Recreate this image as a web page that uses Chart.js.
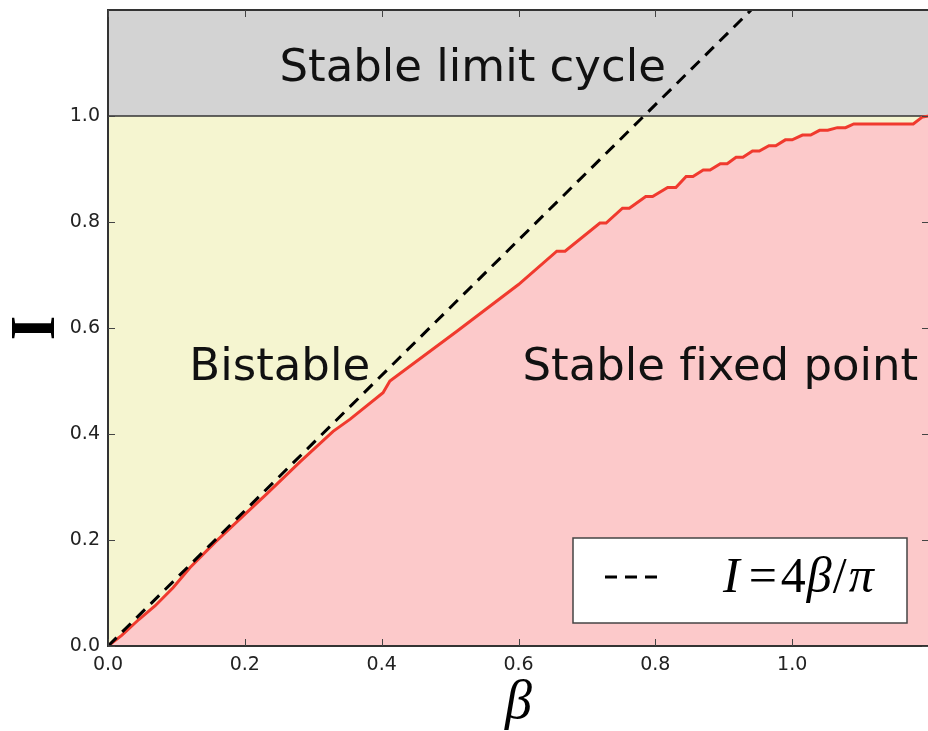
<!DOCTYPE html>
<html>
<head>
<meta charset="utf-8">
<script src="https://cdn.jsdelivr.net/npm/chart.js@4/dist/chart.umd.min.js"></script>
<style>
  html, body { margin: 0; padding: 0; background: #fff; overflow: hidden; }
  #wrap { width: 931px; height: 731px; }
</style>
</head>
<body>
<div id="wrap"><canvas id="phase" width="931" height="731"></canvas></div>
<script>
// boundary of the stable fixed point region (red curve)
const boundaryBeta = [0, 0.02, 0.045, 0.069, 0.095, 0.12, 0.156, 0.198, 0.232, 0.281,
  0.329, 0.354, 0.402, 0.412, 0.51, 0.6, 0.656, 0.668, 0.719, 0.728,
  0.752, 0.762, 0.786, 0.796, 0.818, 0.83, 0.845, 0.855, 0.87, 0.88,
  0.895, 0.905, 0.918, 0.928, 0.942, 0.952, 0.966, 0.976, 0.99, 1.0,
  1.015, 1.027, 1.04, 1.052, 1.066, 1.078, 1.09, 1.177, 1.19, 1.2];
const boundaryI = [0, 0.02, 0.05, 0.076, 0.11, 0.148, 0.195, 0.246, 0.287, 0.348,
  0.405, 0.428, 0.478, 0.5, 0.594, 0.682, 0.745, 0.745, 0.798, 0.798,
  0.826, 0.826, 0.848, 0.848, 0.865, 0.865, 0.886, 0.886, 0.898, 0.898,
  0.91, 0.91, 0.922, 0.922, 0.934, 0.934, 0.944, 0.944, 0.955, 0.955,
  0.964, 0.964, 0.973, 0.973, 0.978, 0.978, 0.985, 0.985, 0.998, 1.0];

// dashed line I = 4 beta / pi (end points)
const dashBeta = [0, 0.94];
const dashI = [0, 1.2];

// limit cycle threshold I = 1
const limitBeta = [0, 1.2];
const limitI = [1, 1];

// region labels (ZWNJ keeps "fi" from turning into a ligature)
const regionNames = ['Stable limit cycle', 'Bistable', 'Stable f\u200Cixed point'];
const regionBeta = [0.533, 0.251, 0.895];
const regionI = [1.088, 0.523, 0.523];

const tickValues = [0, 0.2, 0.4, 0.6, 0.8, 1.0];

const pts = (xs, ys) => xs.map((x, i) => ({x: x, y: ys[i]}));

const overlay = {
  id: 'overlay',
  afterDatasetsDraw(chart) {
    const {ctx, chartArea: a, scales} = chart;
    const xs = scales.x, ys = scales.y;
    ctx.save();
    // region labels
    ctx.fillStyle = '#111';
    ctx.font = '45px "DejaVu Sans"';
    ctx.textAlign = 'center';
    ctx.textBaseline = 'middle';
    regionNames.forEach((t, i) => {
      ctx.fillText(t, xs.getPixelForValue(regionBeta[i]), ys.getPixelForValue(regionI[i]));
    });
    // frame
    ctx.strokeStyle = '#333';
    ctx.lineWidth = 2;
    ctx.strokeRect(a.left, a.top, a.right - a.left, a.bottom - a.top);
    // inward ticks
    ctx.lineWidth = 1;
    ctx.strokeStyle = '#444';
    ctx.beginPath();
    tickValues.forEach(v => {
      const px = Math.round(xs.getPixelForValue(v)) + 0.5;
      ctx.moveTo(px, a.bottom); ctx.lineTo(px, a.bottom - 7);
      ctx.moveTo(px, a.top); ctx.lineTo(px, a.top + 7);
      const py = Math.round(ys.getPixelForValue(v)) + 0.5;
      ctx.moveTo(a.left, py); ctx.lineTo(a.left + 7, py);
      ctx.moveTo(a.right, py); ctx.lineTo(a.right - 7, py);
    });
    ctx.stroke();
    // legend box, lower right
    const bw = 334, bh = 85;
    const bx = a.right - 22 - bw, by = a.bottom - 23 - bh;
    ctx.fillStyle = '#fff';
    ctx.fillRect(bx, by, bw, bh);
    ctx.strokeStyle = '#444';
    ctx.lineWidth = 1.5;
    ctx.strokeRect(bx, by, bw, bh);
    ctx.strokeStyle = '#000';
    ctx.lineWidth = 3;
    ctx.setLineDash([12, 8]);
    ctx.beginPath();
    ctx.moveTo(bx + 32, by + 39);
    ctx.lineTo(bx + 91, by + 39);
    ctx.stroke();
    ctx.setLineDash([]);
    // label I=4β/π
    const parts = [['I', true, 9], ['=', false, 4], ['4', false, 1], ['β', true, 1], ['/', false, 2], ['π', true, 0]];
    let tx = bx + 150;
    const base = by + 54;
    ctx.fillStyle = '#000';
    ctx.textAlign = 'left';
    ctx.textBaseline = 'alphabetic';
    parts.forEach(([s, it, gap]) => {
      ctx.font = (it ? 'italic ' : '') + '50px "Liberation Serif"';
      ctx.fillText(s, tx, base);
      tx += ctx.measureText(s).width + gap;
    });
    ctx.restore();
  }
};

const ctx = document.getElementById('phase');
const chart = new Chart(ctx, {
  type: 'scatter',
  data: {
    datasets: [
      {
        label: 'I=4β/π',
        data: pts(dashBeta, dashI),
        showLine: true,
        borderColor: '#000',
        borderWidth: 3,
        borderDash: [12, 8],
        pointRadius: 0,
        fill: false,
        order: 0
      },
      {
        label: 'boundary',
        data: pts(boundaryBeta, boundaryI),
        showLine: true,
        borderColor: '#f03a2e',
        borderWidth: 3,
        backgroundColor: 'rgb(252, 201, 202)',
        pointRadius: 0,
        fill: 'origin',
        order: 1
      },
      {
        label: 'bistable',
        data: pts(limitBeta, limitI),
        showLine: true,
        borderColor: '#333',
        borderWidth: 1.5,
        backgroundColor: 'rgb(245, 245, 208)',
        pointRadius: 0,
        fill: 'origin',
        order: 2
      },
      {
        label: 'limit cycle',
        data: pts(limitBeta, limitI),
        showLine: true,
        borderWidth: 0,
        borderColor: 'rgba(0,0,0,0)',
        backgroundColor: 'rgb(211, 211, 211)',
        pointRadius: 0,
        fill: 'end',
        order: 3
      }
    ]
  },
  options: {
    responsive: false,
    animation: false,
    devicePixelRatio: 1,
    layout: { padding: { top: 10, right: 2, left: 0, bottom: 0 } },
    plugins: { legend: { display: false }, tooltip: { enabled: false } },
    scales: {
      x: {
        type: 'linear',
        min: 0, max: 1.2,
        afterBuildTicks: s => { s.ticks = tickValues.map(v => ({value: v})); },
        afterFit: s => { s.height = 85; s.paddingLeft = 0; s.paddingRight = 0; },
        grid: { display: false, drawTicks: false },
        border: { display: false },
        ticks: {
          padding: 8,
          color: '#222',
          font: { family: 'DejaVu Sans', size: 19 },
          callback: v => v.toFixed(1)
        },
        title: {
          display: true,
          text: 'β',
          color: '#000',
          font: { family: 'Liberation Serif', size: 54, style: 'italic', lineHeight: 1 },
          padding: { top: 0, bottom: 0 }
        }
      },
      y: {
        type: 'linear',
        min: 0, max: 1.2,
        afterBuildTicks: s => { s.ticks = tickValues.map(v => ({value: v})); },
        afterFit: s => { s.width = 108; s.paddingTop = 0; s.paddingBottom = 0; },
        grid: { display: false, drawTicks: false },
        border: { display: false },
        ticks: {
          padding: 8,
          color: '#222',
          font: { family: 'DejaVu Sans', size: 19 },
          callback: v => v.toFixed(1)
        },
        title: {
          display: true,
          text: 'I',
          color: '#000',
          font: { family: 'Liberation Serif', size: 64, weight: 'bold', lineHeight: 1 },
          padding: { top: 5, bottom: 0 }
        }
      }
    }
  },
  plugins: [overlay]
});
</script>
</body>
</html>
